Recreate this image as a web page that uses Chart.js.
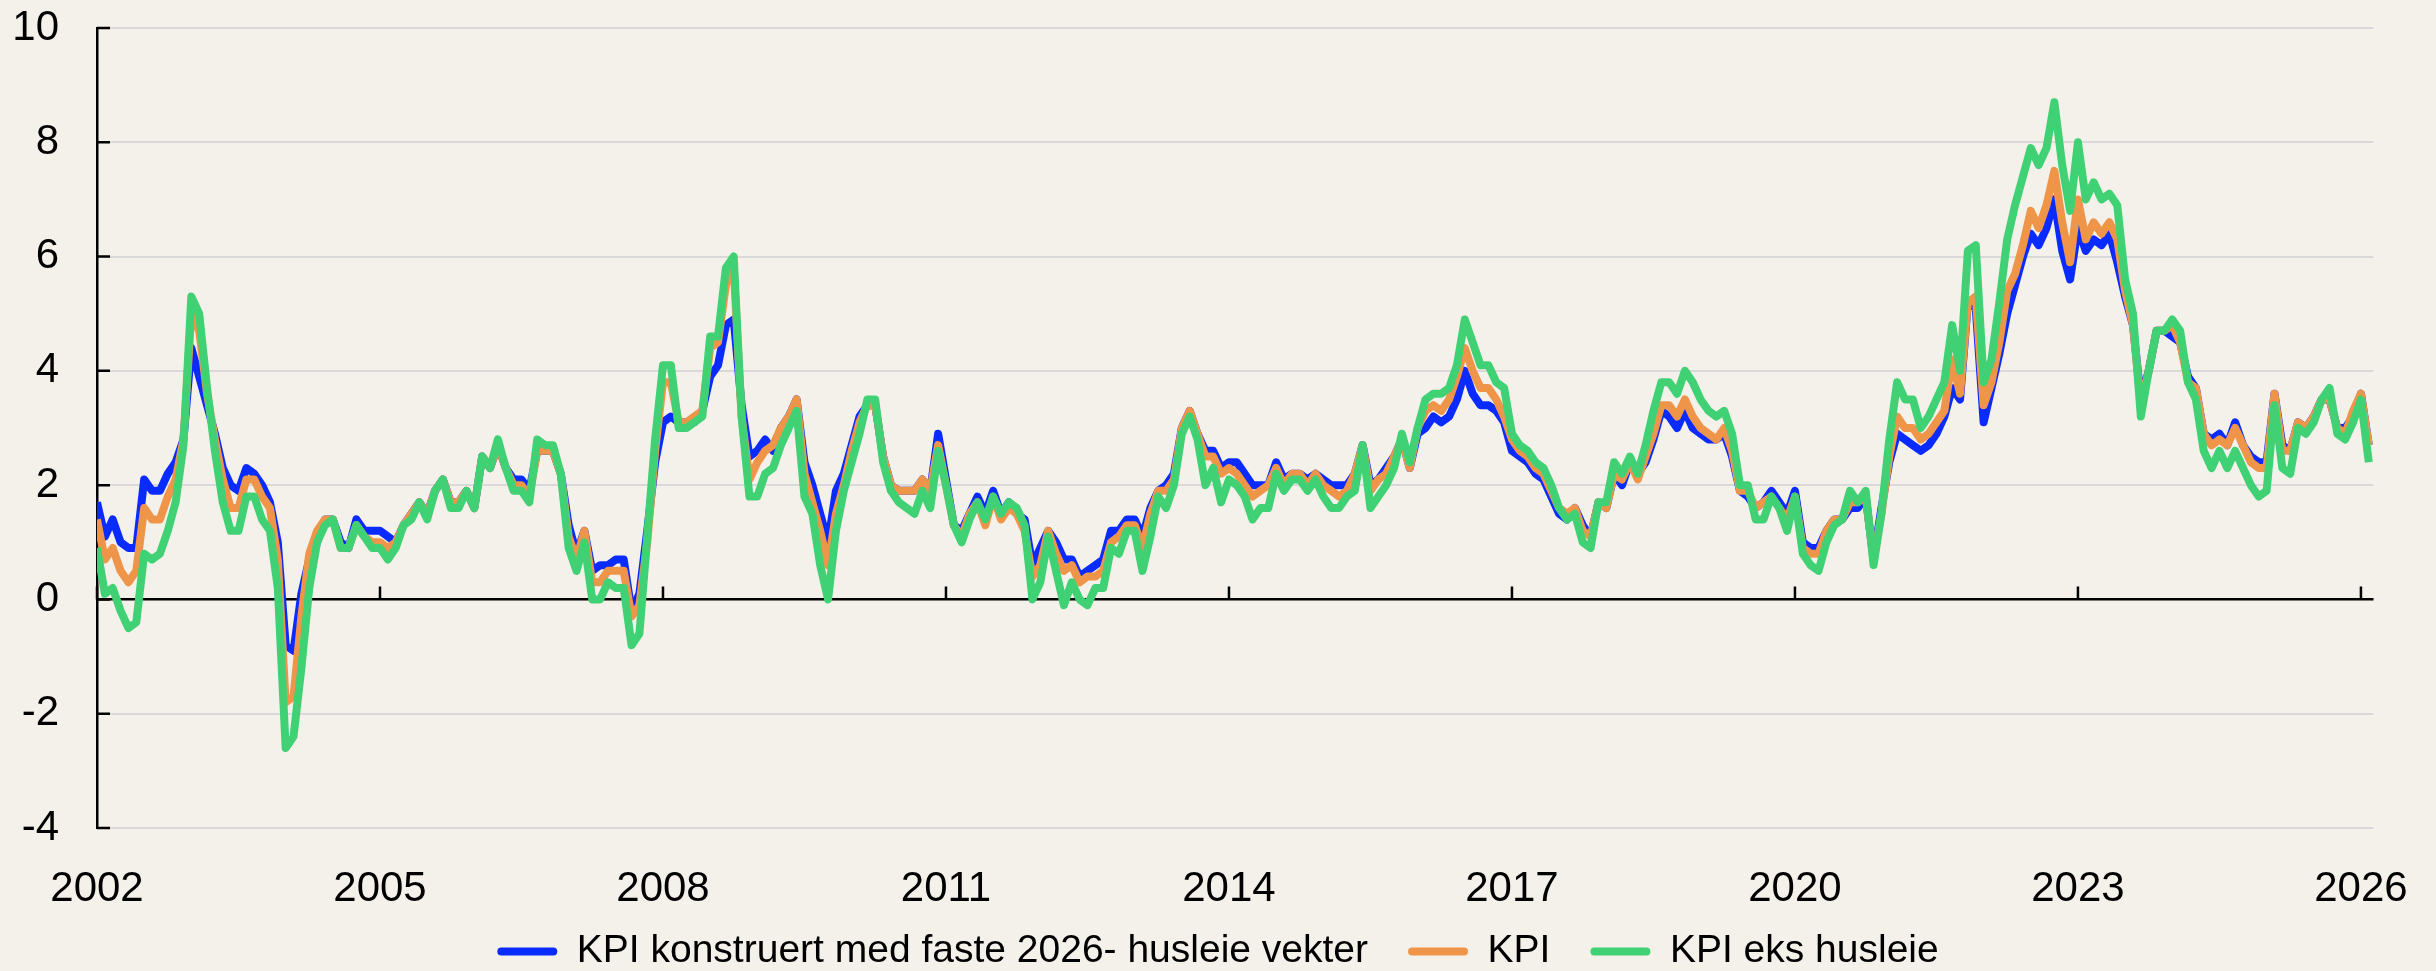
<!DOCTYPE html>
<html>
<head>
<meta charset="utf-8">
<title>KPI med faste husleievekter</title>
<script src="https://cdn.jsdelivr.net/npm/chart.js@4.4.1/dist/chart.umd.min.js"></script>
<style>
  html, body { margin: 0; padding: 0; background: #f4f1ea; }
  #wrap { width: 2436px; height: 971px; }
</style>
</head>
<body>
<div id="wrap"><canvas id="kpiChart" width="2436" height="971"></canvas></div>
<script>
// monthly 12-month change in percent, Jan 2002 - Feb 2026
const startYear = 2002;
const yearTicks = [2002, 2005, 2008, 2011, 2014, 2017, 2020, 2023, 2026];

const seriesNames = ['KPI konstruert med faste 2026- husleie vekter', 'KPI', 'KPI eks husleie'];
const seriesColors = ['#0a2bff', '#ef9549', '#40d175'];

const kpiFast = [
  1.7, 1.1, 1.4, 1.0, 0.9, 0.9, 2.1, 1.9, 1.9, 2.2,
  2.4, 2.8, 4.4, 3.9, 3.4, 2.9, 2.3, 2.0, 1.9, 2.3,
  2.2, 2.0, 1.7, 1.0, -0.8, -0.9, 0.1, 0.7, 1.0, 1.4,
  1.4, 1.0, 0.9, 1.4, 1.2, 1.2, 1.2, 1.1, 1.0, 1.3,
  1.5, 1.7, 1.5, 1.9, 2.1, 1.7, 1.7, 1.9, 1.6, 2.5,
  2.3, 2.7, 2.3, 2.1, 2.1, 1.9, 2.6, 2.6, 2.6, 2.2,
  1.3, 0.8, 1.2, 0.5, 0.6, 0.6, 0.7, 0.7, -0.2, 0.1,
  1.2, 2.4, 3.1, 3.2, 3.1, 3.1, 3.1, 3.3, 3.9, 4.1,
  4.8, 4.9, 3.4, 2.5, 2.6, 2.8, 2.6, 3.0, 3.2, 3.5,
  2.4, 2.0, 1.5, 1.0, 1.9, 2.2, 2.7, 3.2, 3.4, 3.4,
  2.5, 2.0, 1.9, 1.9, 1.9, 2.1, 1.9, 2.9, 2.1, 1.3,
  1.2, 1.5, 1.8, 1.5, 1.9, 1.5, 1.7, 1.5, 1.4, 0.6,
  0.9, 1.2, 1.0, 0.7, 0.7, 0.4, 0.5, 0.6, 0.7, 1.2,
  1.2, 1.4, 1.4, 1.1, 1.6, 1.9, 2.0, 2.2, 3.0, 3.3,
  2.9, 2.6, 2.6, 2.3, 2.4, 2.4, 2.2, 2.0, 2.0, 2.0,
  2.4, 2.1, 2.2, 2.2, 2.1, 2.2, 2.1, 2.0, 2.0, 2.0,
  2.2, 2.7, 2.0, 2.1, 2.3, 2.5, 2.8, 2.3, 2.9, 3.0,
  3.2, 3.1, 3.2, 3.5, 4.0, 3.6, 3.4, 3.4, 3.3, 3.1,
  2.6, 2.5, 2.4, 2.2, 2.1, 1.8, 1.5, 1.4, 1.6, 1.3,
  1.1, 1.7, 1.6, 2.2, 2.0, 2.4, 2.2, 2.4, 2.8, 3.3,
  3.2, 3.0, 3.3, 3.0, 2.9, 2.8, 2.8, 2.9, 2.5, 1.9,
  1.8, 1.6, 1.7, 1.9, 1.7, 1.5, 1.9, 1.0, 0.9, 0.9,
  1.2, 1.4, 1.4, 1.6, 1.6, 1.8, 0.7, 1.6, 2.4, 2.9,
  2.8, 2.7, 2.6, 2.7, 2.9, 3.2, 3.7, 3.5, 5.2, 5.1,
  3.1, 3.7, 4.3, 5.0, 5.5, 6.0, 6.4, 6.2, 6.5, 7.0,
  6.1, 5.6, 6.5, 6.1, 6.3, 6.2, 6.4, 5.9, 5.3, 4.8,
  3.5, 4.0, 4.7, 4.7, 4.6, 4.5, 3.9, 3.7, 2.9, 2.8,
  2.9, 2.7, 3.1, 2.7, 2.5, 2.4, 2.4, 3.6, 2.7, 2.6,
  3.1, 3.0, 3.2, 3.5, 3.5, 3.0, 3.0, 3.2, 3.6, 2.7
];

const kpi = [
  1.4, 0.7, 0.9, 0.5, 0.3, 0.5, 1.6, 1.4, 1.4, 1.8,
  2.1, 2.8, 5.0, 4.7, 3.6, 2.8, 2.1, 1.6, 1.6, 2.1,
  2.1, 1.8, 1.6, 0.7, -1.8, -1.7, -0.3, 0.8, 1.2, 1.4,
  1.4, 0.9, 0.9, 1.3, 1.1, 1.0, 1.0, 0.9, 1.0, 1.3,
  1.5, 1.7, 1.5, 1.9, 2.1, 1.7, 1.7, 1.9, 1.6, 2.5,
  2.3, 2.7, 2.3, 2.0, 2.0, 1.8, 2.6, 2.6, 2.6, 2.2,
  1.1, 0.7, 1.2, 0.3, 0.3, 0.5, 0.5, 0.5, -0.3, -0.1,
  1.0, 2.6, 3.8, 3.8, 3.1, 3.1, 3.2, 3.3, 4.4, 4.5,
  5.5, 5.8, 3.2, 2.1, 2.4, 2.6, 2.7, 3.0, 3.2, 3.5,
  2.2, 1.7, 1.2, 0.6, 1.5, 2.0, 2.6, 3.1, 3.4, 3.4,
  2.5, 2.0, 1.9, 1.9, 1.9, 2.1, 1.9, 2.7, 2.0, 1.3,
  1.1, 1.5, 1.7, 1.3, 1.8, 1.4, 1.6, 1.5, 1.2, 0.4,
  0.6, 1.2, 0.8, 0.5, 0.6, 0.3, 0.4, 0.4, 0.5, 1.0,
  1.1, 1.3, 1.3, 0.9, 1.5, 1.9, 1.9, 2.1, 3.0, 3.3,
  2.9, 2.5, 2.5, 2.2, 2.3, 2.2, 2.0, 1.8, 1.9, 2.0,
  2.3, 2.0, 2.2, 2.2, 2.0, 2.2, 2.0, 1.9, 1.8, 1.9,
  2.2, 2.7, 1.9, 2.1, 2.2, 2.5, 2.8, 2.3, 3.0, 3.3,
  3.4, 3.3, 3.5, 3.9, 4.4, 4.0, 3.7, 3.7, 3.5, 3.2,
  2.8, 2.6, 2.5, 2.3, 2.2, 1.9, 1.6, 1.5, 1.6, 1.2,
  1.1, 1.7, 1.6, 2.2, 2.1, 2.4, 2.1, 2.5, 2.9, 3.4,
  3.4, 3.2, 3.5, 3.2, 3.0, 2.9, 2.8, 3.0, 2.6, 1.9,
  1.9, 1.6, 1.7, 1.8, 1.6, 1.4, 1.8, 0.9, 0.8, 0.8,
  1.2, 1.4, 1.4, 1.7, 1.7, 1.8, 0.7, 1.5, 2.5, 3.2,
  3.0, 3.0, 2.8, 2.9, 3.1, 3.3, 4.2, 3.6, 5.2, 5.3,
  3.4, 3.8, 4.5, 5.4, 5.7, 6.2, 6.8, 6.5, 6.9, 7.5,
  6.6, 5.9, 7.0, 6.3, 6.6, 6.4, 6.6, 6.3, 5.4, 4.8,
  3.4, 4.0, 4.7, 4.7, 4.8, 4.5, 3.8, 3.7, 2.9, 2.7,
  2.8, 2.7, 3.0, 2.7, 2.4, 2.3, 2.3, 3.6, 2.6, 2.6,
  3.1, 3.0, 3.2, 3.5, 3.5, 3.0, 2.9, 3.3, 3.6, 2.7
];

const kpiEksHusleie = [
  0.9, 0.1, 0.2, -0.2, -0.5, -0.4, 0.8, 0.7, 0.8, 1.2,
  1.7, 2.7, 5.3, 5.0, 3.7, 2.6, 1.7, 1.2, 1.2, 1.8,
  1.8, 1.4, 1.2, 0.2, -2.6, -2.4, -1.2, 0.2, 1.0, 1.3,
  1.4, 0.9, 0.9, 1.3, 1.1, 0.9, 0.9, 0.7, 0.9, 1.3,
  1.4, 1.7, 1.4, 1.9, 2.1, 1.6, 1.6, 1.9, 1.6, 2.5,
  2.3, 2.8, 2.3, 1.9, 1.9, 1.7, 2.8, 2.7, 2.7, 2.2,
  0.9, 0.5, 1.0, 0.0, 0.0, 0.3, 0.2, 0.2, -0.8, -0.6,
  1.1, 2.8, 4.1, 4.1, 3.0, 3.0, 3.1, 3.2, 4.6, 4.6,
  5.8, 6.0, 3.2, 1.8, 1.8, 2.2, 2.3, 2.7, 3.0, 3.3,
  1.8, 1.5, 0.6, 0.0, 1.2, 1.9, 2.4, 2.9, 3.5, 3.5,
  2.4, 1.9, 1.7, 1.6, 1.5, 1.9, 1.6, 2.6, 2.0, 1.3,
  1.0, 1.4, 1.7, 1.4, 1.8, 1.5, 1.7, 1.6, 1.3, 0.0,
  0.3, 1.1, 0.5, -0.1, 0.3, 0.0, -0.1, 0.2, 0.2, 0.9,
  0.8, 1.2, 1.2, 0.5, 1.1, 1.8, 1.6, 2.0, 2.9, 3.2,
  2.8, 2.0, 2.3, 1.7, 2.1, 2.0, 1.8, 1.4, 1.6, 1.6,
  2.2, 1.9, 2.1, 2.1, 1.9, 2.1, 1.8, 1.6, 1.6, 1.8,
  1.9, 2.7, 1.6, 1.8, 2.0, 2.3, 2.9, 2.4, 3.0, 3.5,
  3.6, 3.6, 3.7, 4.1, 4.9, 4.5, 4.1, 4.1, 3.8, 3.7,
  2.9, 2.7, 2.6, 2.4, 2.3, 2.0, 1.6, 1.4, 1.5, 1.0,
  0.9, 1.7, 1.7, 2.4, 2.2, 2.5, 2.2, 2.7, 3.3, 3.8,
  3.8, 3.6, 4.0, 3.8, 3.5, 3.3, 3.2, 3.3, 2.9, 2.0,
  2.0, 1.4, 1.4, 1.8, 1.6, 1.2, 1.8, 0.8, 0.6, 0.5,
  1.0, 1.3, 1.4, 1.9, 1.7, 1.9, 0.6, 1.5, 2.8, 3.8,
  3.5, 3.5, 3.0, 3.2, 3.5, 3.8, 4.8, 4.0, 6.1, 6.2,
  3.8, 4.2, 5.2, 6.3, 6.9, 7.4, 7.9, 7.6, 7.9, 8.7,
  7.6, 6.8, 8.0, 7.0, 7.3, 7.0, 7.1, 6.9, 5.6, 5.0,
  3.2, 4.0, 4.7, 4.7, 4.9, 4.7, 3.8, 3.5, 2.6, 2.3,
  2.6, 2.3, 2.6, 2.3, 2.0, 1.8, 1.9, 3.4, 2.3, 2.2,
  3.0, 2.9, 3.1, 3.5, 3.7, 2.9, 2.8, 3.1, 3.5, 2.4
];

// month labels, "2002-01" ...
const months = [];
for (let i = 0; i < kpi.length; i++) {
  months.push(startYear + Math.floor(i / 12) + '-' + String(i % 12 + 1).padStart(2, '0'));
}

const FONT = '"Liberation Sans", Arial, sans-serif';

function toPoints(values) {
  return values.map((v, i) => ({ x: i, y: v }));
}

function makeDataset(idx, values) {
  return {
    label: seriesNames[idx],
    data: toPoints(values),
    borderColor: seriesColors[idx],
    backgroundColor: seriesColors[idx],
    borderWidth: 8,
    pointRadius: 0,
    tension: 0,
    borderJoinStyle: 'round',
    order: 2 - idx // green drawn on top
  };
}

// small inward tick marks: on the y axis, and on the zero line for the years
const tickMarks = {
  id: 'tickMarks',
  beforeDraw(chart) {
    // year labels hang below the (short) x axis box, don't let them get clipped
    chart.scales.x.bottom = chart.height;
  },
  beforeDatasetsDraw(chart) {
    const { ctx, chartArea, scales } = chart;
    const zeroY = scales.y.getPixelForValue(0);
    ctx.save();
    ctx.strokeStyle = '#000';
    ctx.lineWidth = 2.5;
    ctx.beginPath();
    scales.x.ticks.forEach(t => {
      const px = scales.x.getPixelForValue(t.value);
      ctx.moveTo(px, zeroY);
      ctx.lineTo(px, zeroY - 13);
    });
    scales.y.ticks.forEach(t => {
      const py = scales.y.getPixelForValue(t.value);
      ctx.moveTo(chartArea.left, py);
      ctx.lineTo(chartArea.left + 13, py);
    });
    ctx.stroke();
    ctx.restore();
  }
};

const ctx = document.getElementById('kpiChart').getContext('2d');
new Chart(ctx, {
  type: 'line',
  data: {
    labels: months,
    datasets: [
      makeDataset(0, kpiFast),
      makeDataset(1, kpi),
      makeDataset(2, kpiEksHusleie)
    ]
  },
  options: {
    responsive: false,
    animation: false,
    devicePixelRatio: 1,
    layout: { padding: { top: 28, right: 0, bottom: -10, left: 0 } },
    scales: {
      x: {
        type: 'linear',
        min: 0,
        max: 289.6,
        afterBuildTicks: scale => {
          scale.ticks = yearTicks.map(y => ({ value: (y - startYear) * 12 }));
        },
        afterFit: scale => { scale.height = 64; },
        ticks: {
          autoSkip: false,
          maxRotation: 0,
          padding: 28,
          color: '#000',
          font: { family: FONT, size: 42 },
          callback: value => String(startYear + Math.round(value / 12))
        },
        grid: { display: false },
        border: { display: false }
      },
      y: {
        min: -4,
        max: 10,
        afterFit: scale => { scale.width = 97; },
        ticks: {
          stepSize: 2,
          padding: 0,
          color: '#000',
          font: { family: FONT, size: 42, lineHeight: 1 }
        },
        grid: {
          drawTicks: true,
          tickLength: 38,
          tickColor: 'rgba(0,0,0,0)',
          lineWidth: c => (c.tick && c.tick.value === 0 ? 2.5 : 2),
          color: c => (c.tick && c.tick.value === 0 ? '#000' : '#d9d9d9')
        },
        border: { display: true, color: '#000', width: 2.5 }
      },
      // empty axis on the right, only keeps the plot away from the right edge
      yRight: {
        position: 'right',
        display: true,
        afterFit: scale => { scale.width = 62; },
        ticks: { display: false },
        grid: { display: false, drawTicks: false },
        border: { display: false }
      }
    },
    plugins: {
      tooltip: { enabled: false },
      legend: {
        position: 'bottom',
        labels: {
          color: '#000',
          font: { family: FONT, size: 39 },
          boxWidth: 60,
          boxHeight: 8,
          padding: 40,
          useBorderRadius: true,
          borderRadius: 4,
          sort: (a, b) => a.datasetIndex - b.datasetIndex,
          generateLabels: chart => {
            const items = Chart.defaults.plugins.legend.labels.generateLabels(chart);
            items.forEach(it => { it.lineWidth = 0; it.fillStyle = it.strokeStyle; });
            return items;
          }
        }
      }
    }
  },
  plugins: [tickMarks]
});
</script>
</body>
</html>
